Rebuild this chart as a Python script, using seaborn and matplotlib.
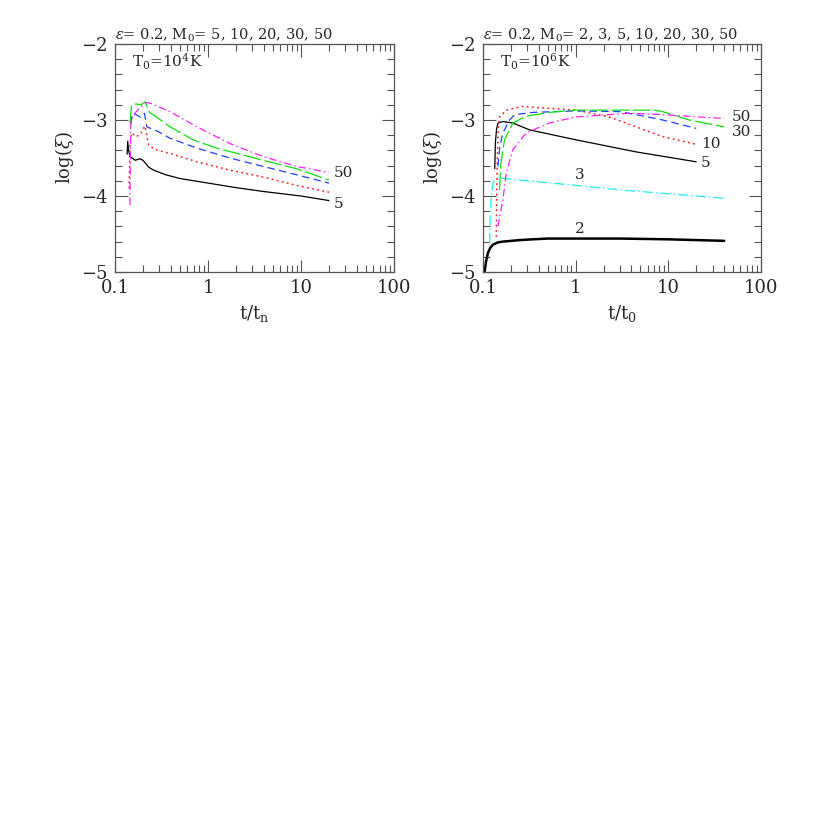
import numpy as np
import pandas as pd
import seaborn as sns
import matplotlib
matplotlib.use("Agg")
import matplotlib.pyplot as plt
from matplotlib.ticker import LogLocator, MultipleLocator, FixedLocator, FixedFormatter

sns.set_theme(style="ticks")
plt.rcParams['font.family'] = ['DejaVu Serif', 'DejaVu Sans']
plt.rcParams['mathtext.fontset'] = 'dejavuserif'

# ---------------- Left panel (T0 = 1e4 K) ----------------
L5_t = [0.135, 0.137, 0.14, 0.145, 0.165, 0.185, 0.2, 0.23, 0.26, 0.35, 0.5, 1.0, 2.0, 3.9, 10, 20]
L5_y = [-3.45, -3.28, -3.40, -3.48, -3.53, -3.51, -3.53, -3.62, -3.66, -3.72, -3.77, -3.83, -3.89, -3.94, -4.0, -4.06]

L10_t = [0.142, 0.145, 0.151, 0.169, 0.19, 0.2, 0.21, 0.23, 0.27, 0.39, 0.76, 1.72, 3.9, 8.9, 20]
L10_y = [-3.9, -3.3, -3.17, -3.22, -3.18, -3.12, -3.08, -3.33, -3.39, -3.44, -3.55, -3.66, -3.75, -3.86, -3.95]

L20_t = [0.148, 0.152, 0.157, 0.175, 0.186, 0.2, 0.207, 0.22, 0.29, 0.39, 0.76, 1.72, 3.9, 8.9, 20]
L20_y = [-3.05, -2.95, -2.91, -2.94, -2.96, -2.93, -2.91, -3.09, -3.15, -3.24, -3.37, -3.50, -3.61, -3.72, -3.83]

L30_t = [0.145, 0.147, 0.15, 0.158, 0.17, 0.19, 0.21, 0.238, 0.258, 0.39, 0.69, 1.24, 3.9, 8.9, 20]
L30_y = [-3.04, -2.95, -2.82, -2.79, -2.79, -2.80, -2.76, -2.91, -2.93, -3.09, -3.26, -3.37, -3.53, -3.64, -3.79]

L50_t = [0.145, 0.146, 0.148, 0.155, 0.164, 0.187, 0.219, 0.24, 0.39, 0.76, 1.72, 3.9, 8.9, 20]
L50_y = [-4.12, -3.6, -3.04, -2.95, -2.91, -2.83, -2.77, -2.78, -2.89, -3.09, -3.31, -3.48, -3.61, -3.69]

# ---------------- Right panel (T0 = 1e6 K) ----------------
R2_t = [0.104, 0.108, 0.113, 0.12, 0.128, 0.145, 0.164, 0.25, 0.345, 0.5, 1, 3, 10, 40]
R2_y = [-5.0, -4.86, -4.75, -4.68, -4.64, -4.61, -4.60, -4.58, -4.57, -4.56, -4.56, -4.56, -4.57, -4.59]

R3_t = [0.118, 0.119, 0.122, 0.128, 0.135, 0.145, 0.3, 1, 3, 10, 40]
R3_y = [-4.62, -4.3, -4.05, -3.83, -3.79, -3.76, -3.80, -3.86, -3.92, -3.97, -4.03]

R5_t = [0.134, 0.136, 0.14, 0.145, 0.164, 0.21, 0.318, 1.0, 4.5, 20]
R5_y = [-3.64, -3.30, -3.12, -3.04, -3.02, -3.04, -3.13, -3.26, -3.42, -3.55]

R10_t = [0.139, 0.142, 0.146, 0.151, 0.178, 0.27, 0.32, 1.0, 2.3, 4.5, 8.7, 20]
R10_y = [-4.54, -3.6, -3.1, -2.96, -2.87, -2.82, -2.83, -2.87, -2.96, -3.09, -3.22, -3.32]

R20_t = [0.145, 0.152, 0.164, 0.193, 0.22, 0.345, 1.0, 3.0, 4.5, 8.7, 20]
R20_y = [-3.61, -3.35, -3.17, -3.0, -2.93, -2.90, -2.88, -2.89, -2.93, -3.0, -3.11]

R30_t = [0.151, 0.155, 0.161, 0.171, 0.21, 0.292, 0.52, 1.0, 3.0, 7.0, 8.7, 16.8, 40]
R30_y = [-3.92, -3.6, -3.45, -3.26, -3.04, -2.95, -2.90, -2.87, -2.87, -2.87, -2.89, -3.0, -3.09]

R50_t = [0.145, 0.155, 0.164, 0.178, 0.21, 0.292, 0.52, 1.0, 3.8, 8.7, 40]
R50_y = [-4.40, -4.2, -4.05, -3.70, -3.39, -3.17, -3.04, -2.96, -2.91, -2.93, -2.98]

left_labels = ["50", "5"]
left_label_pos = [(22.6, -3.70), (22.6, -4.10)]
right_labels = ["50", "30", "10", "5", "3", "2"]
right_label_pos = [(48, -2.96), (48, -3.16), (22.5, -3.32), (22.5, -3.57), (1.1, -3.72), (1.1, -4.43)]

x_ticks = [0.1, 1, 10, 100]
x_ticklabels = ["0.1", "1", "10", "100"]
y_ticks = [-5, -4, -3, -2]
y_ticklabels = ["\u22125", "\u22124", "\u22123", "\u22122"]

styles = {
    "black": dict(color="black", linestyle="-", lw=0.9),
    "black_thick": dict(color="black", linestyle="-", lw=1.8),
    "red": dict(color="#ff2020", linestyle=(0, (1.2, 2.2)), lw=1.1),
    "blue": dict(color="#2040ff", linestyle=(0, (6, 3.5)), lw=0.9),
    "green": dict(color="#10e010", linestyle=(0, (14, 3)), lw=0.9),
    "magenta": dict(color="#ff20ff", linestyle=(0, (6, 2.5, 1.2, 2.5)), lw=0.9),
    "cyan": dict(color="#20f0f0", linestyle=(0, (8, 2.5, 1.2, 2.5)), lw=0.9),
}

fig = plt.figure(figsize=(8.3, 8.3), dpi=100)
axL = fig.add_axes([115/830, 1-272/830, 279/830, 228/830])
axR = fig.add_axes([483/830, 1-272/830, 278/830, 228/830])

def draw(ax, t, y, st):
    df = pd.DataFrame({"t": t, "y": y})
    sns.lineplot(data=df, x="t", y="y", ax=ax, sort=False, estimator=None,
                 color=styles[st]["color"], linestyle=styles[st]["linestyle"],
                 lw=styles[st]["lw"])

for t, y, st in [(L5_t, L5_y, "black"), (L10_t, L10_y, "red"), (L20_t, L20_y, "blue"),
                 (L30_t, L30_y, "green"), (L50_t, L50_y, "magenta")]:
    draw(axL, t, y, st)

for t, y, st in [(R2_t, R2_y, "black_thick"), (R3_t, R3_y, "cyan"), (R5_t, R5_y, "black"),
                 (R10_t, R10_y, "red"), (R20_t, R20_y, "blue"), (R30_t, R30_y, "green"),
                 (R50_t, R50_y, "magenta")]:
    draw(axR, t, y, st)

frame_col = "#555555"
for ax, xl in [(axL, "t/t$_\\mathregular{n}$"), (axR, "t/t$_\\mathregular{0}$")]:
    ax.set_xscale("log")
    ax.set_xlim(0.1, 100)
    ax.set_ylim(-5, -2)
    ax.xaxis.set_major_locator(FixedLocator(x_ticks))
    ax.xaxis.set_major_formatter(FixedFormatter(x_ticklabels))
    ax.xaxis.set_minor_locator(LogLocator(base=10, subs=np.arange(2, 10)))
    ax.yaxis.set_major_locator(FixedLocator(y_ticks))
    ax.yaxis.set_major_formatter(FixedFormatter(y_ticklabels))
    ax.yaxis.set_minor_locator(MultipleLocator(0.2))
    ax.tick_params(which="both", direction="in", top=True, right=True,
                   color=frame_col, width=0.8, labelsize=13, pad=5)
    ax.tick_params(which="major", length=9)
    ax.tick_params(which="minor", length=5)
    for sp in ax.spines.values():
        sp.set_color(frame_col)
        sp.set_linewidth(0.9)
        sp.set_visible(True)
    ax.set_xlabel(xl, fontsize=13, labelpad=4)
    ax.set_ylabel("log($\\xi$)", fontsize=13, labelpad=4)

axL.set_title("$\\epsilon$= 0.2, M$_\\mathregular{0}$= 5, 10, 20, 30, 50", fontsize=10.5, loc="left", pad=3, x=0.0)
axR.set_title("$\\epsilon$= 0.2, M$_\\mathregular{0}$= 2, 3, 5, 10, 20, 30, 50", fontsize=10.5, loc="left", pad=3, x=0.0)
axL.text(0.06, 0.92, "T$_\\mathregular{0}$=10$^\\mathregular{4}$K", transform=axL.transAxes, fontsize=11, va="center")
axR.text(0.06, 0.92, "T$_\\mathregular{0}$=10$^\\mathregular{6}$K", transform=axR.transAxes, fontsize=11, va="center")

for lab, (x, y) in zip(left_labels, left_label_pos):
    axL.text(x, y, lab, fontsize=11, va="center", ha="left")
for i, (lab, (x, y)) in enumerate(zip(right_labels, right_label_pos)):
    ha = "center" if lab in ("3", "2") else "left"
    axR.text(x, y, lab, fontsize=11, va="center", ha=ha)

fig.savefig("out.png", dpi=100, facecolor="white")
